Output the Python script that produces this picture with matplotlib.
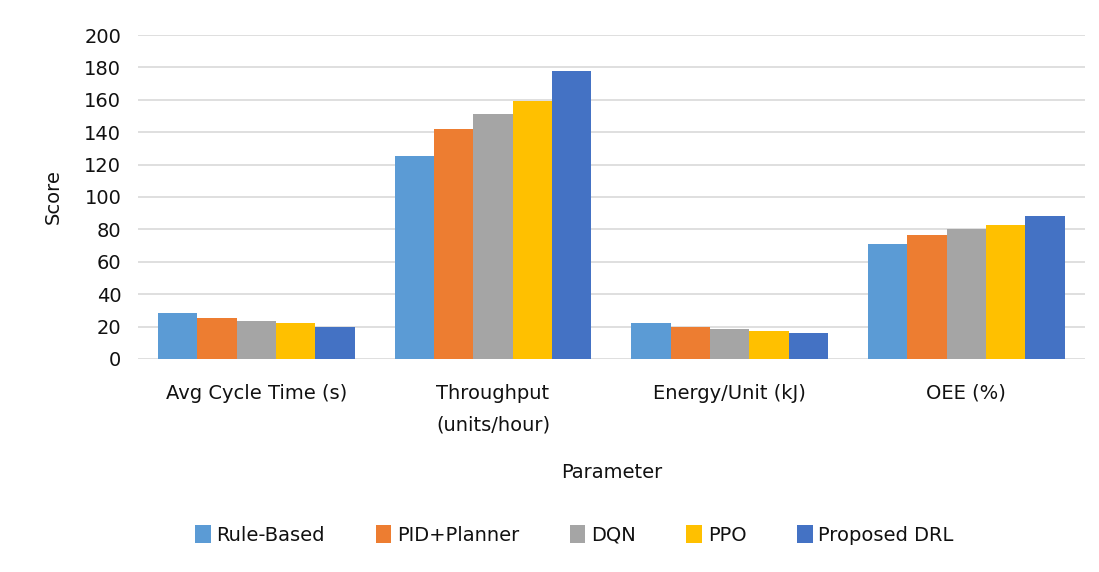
import matplotlib.pyplot as plt
import numpy as np

plt.rcParams['font.family'] = ['DejaVu Sans']

# chart data
parameters = ['Avg Cycle Time (s)', 'Throughput\n(units/hour)', 'Energy/Unit (kJ)', 'OEE (%)']
methods = ['Rule-Based', 'PID+Planner', 'DQN', 'PPO', 'Proposed DRL']
rule_based = [28.5, 125, 22, 71]
pid_planner = [25, 142, 20, 76.5]
dqn = [23.5, 151, 18.5, 80]
ppo = [22, 159.5, 17.5, 82.5]
proposed_drl = [20, 177.5, 16, 88]
yticks = list(range(0, 201, 20))

series = [rule_based, pid_planner, dqn, ppo, proposed_drl]
colors = ['#5B9BD5', '#ED7D31', '#A5A5A5', '#FFC000', '#4472C4']

fig = plt.figure(figsize=(10.99, 5.72), dpi=100)
ax = fig.add_axes([0.1256, 0.3724, 0.8614, 0.5664])

x = np.arange(len(parameters))
w = 0.166
for i, (vals, c) in enumerate(zip(series, colors)):
    ax.bar(x + (i - 2) * w, vals, w, color=c, label=methods[i], zorder=3)

ax.set_xlim(-0.5, len(parameters) - 0.5)
ax.set_ylim(0, 200)
ax.set_yticks(yticks)
ax.yaxis.grid(True, color='#D9D9D9', linewidth=1.2, zorder=0)
for s in ax.spines.values():
    s.set_visible(False)
ax.tick_params(axis='both', length=0, labelsize=14, colors='#111111')
ax.tick_params(axis='x', pad=18)
ax.tick_params(axis='y', pad=12)
ax.set_xticks(x)
ax.set_xticklabels(parameters, linespacing=1.85)
ax.set_ylabel('Score', fontsize=14, color='#111111')
ax.yaxis.set_label_coords(-0.079, 0.5)
ax.set_xlabel('Parameter', fontsize=14, color='#111111', va='center')
ax.xaxis.set_label_coords(0.5, -0.349)

ax.legend(loc='center', bbox_to_anchor=(0.461, -0.543), ncol=5, frameon=False,
          fontsize=14, handlelength=0.8, handleheight=1.0, handletextpad=0.3,
          columnspacing=2.6, labelcolor='#111111')

fig.savefig('out.png', dpi=100)
